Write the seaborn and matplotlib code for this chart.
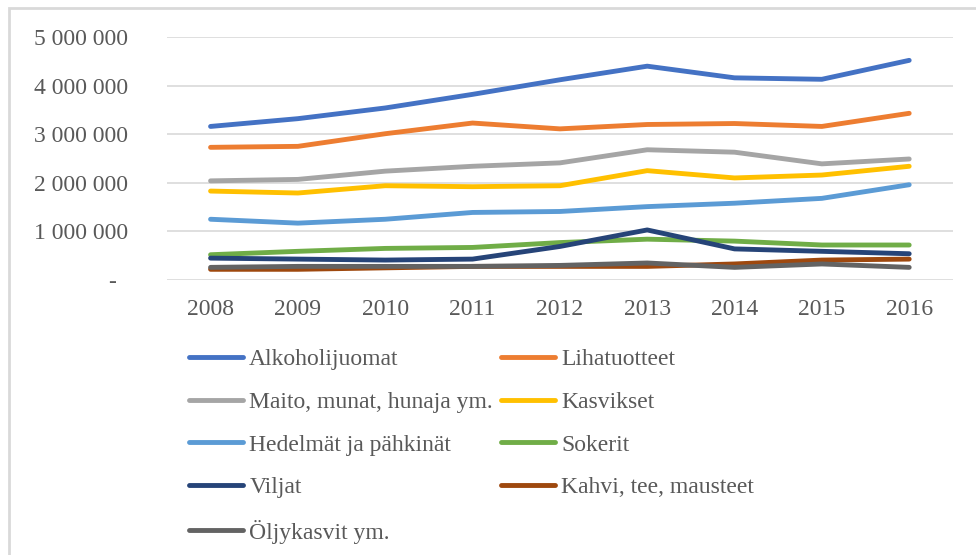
import numpy as np
import pandas as pd
import matplotlib.pyplot as plt
import seaborn as sns
from matplotlib.ticker import FuncFormatter
from matplotlib.patches import Rectangle
from matplotlib.transforms import ScaledTranslation

years = [2008, 2009, 2010, 2011, 2012, 2013, 2014, 2015, 2016]

alkoholijuomat = [3160000, 3320000, 3540000, 3820000, 4120000, 4400000, 4160000, 4130000, 4520000]
lihatuotteet = [2730000, 2750000, 3010000, 3230000, 3110000, 3200000, 3220000, 3160000, 3430000]
maito = [2040000, 2070000, 2240000, 2340000, 2410000, 2680000, 2630000, 2390000, 2490000]
kasvikset = [1830000, 1790000, 1940000, 1920000, 1940000, 2250000, 2100000, 2160000, 2340000]
hedelmat = [1250000, 1170000, 1250000, 1390000, 1410000, 1510000, 1580000, 1680000, 1960000]
sokerit = [520000, 590000, 650000, 670000, 770000, 840000, 800000, 720000, 720000]
viljat = [450000, 430000, 410000, 430000, 690000, 1030000, 640000, 590000, 540000]
kahvi = [220000, 220000, 250000, 280000, 280000, 280000, 330000, 410000, 430000]
oljykasvit = [260000, 280000, 280000, 280000, 300000, 350000, 260000, 330000, 260000]

names = ["Alkoholijuomat", "Lihatuotteet", "Maito, munat, hunaja ym.", "Kasvikset",
         "Hedelmät ja pähkinät", "Sokerit", "Viljat", "Kahvi, tee, mausteet", "Öljykasvit ym."]
series = [alkoholijuomat, lihatuotteet, maito, kasvikset, hedelmat, sokerit, viljat, kahvi, oljykasvit]
colors = ["#4472C4", "#ED7D31", "#A5A5A5", "#FFC000", "#5B9BD5",
          "#70AD47", "#264478", "#9E480E", "#636363"]

rows = []
for name, vals in zip(names, series):
    for i, v in enumerate(vals):
        rows.append({"pos": i, "sarja": name, "arvo": v})
df = pd.DataFrame(rows)

sns.set_style("white")
plt.rcParams['font.family'] = ['Liberation Serif', 'DejaVu Serif']

fig = plt.figure(figsize=(9.76, 5.55), dpi=100)
ax = fig.add_axes([0.171, 0.4955, 0.8053, 0.4378])

sns.lineplot(data=df, x="pos", y="arvo", hue="sarja", hue_order=names,
             palette=colors, linewidth=3.5, ax=ax, legend=True)

ax.set_ylim(0, 5000000)
ax.set_yticks([0, 1000000, 2000000, 3000000, 4000000, 5000000])
ax.set_xlim(-0.5, 8.5)
ax.set_xticks(range(len(years)))
ax.set_xticklabels([str(y) for y in years])

def fmt(v, pos):
    if v == 0:
        return "-"
    return f"{int(v):,}".replace(",", " ")

ax.yaxis.set_major_formatter(FuncFormatter(fmt))
ax.grid(axis="y", color="#D9D9D9", linewidth=1.2)
ax.set_axisbelow(True)
for s in ax.spines.values():
    s.set_visible(False)
ax.tick_params(axis="both", length=0, labelsize=17, colors="#595959")
ax.tick_params(axis="y", pad=28)
ax.tick_params(axis="x", pad=14)
ax.set_xlabel("")
ax.set_ylabel("")

# accounting-style dash for zero sits a bit left of the numbers' right edge
fig.canvas.draw()
zero_lbl = ax.yaxis.get_major_ticks()[0].label1
zero_lbl.set_transform(zero_lbl.get_transform() + ScaledTranslation(-12 / 100, 0, fig.dpi_scale_trans))

handles, labels = ax.get_legend_handles_labels()
ax.get_legend().remove()
order = [0, 2, 4, 6, 8, 1, 3, 5, 7]
leg = fig.legend([handles[i] for i in order], [labels[i] for i in order],
                 ncol=2, loc="upper left", bbox_to_anchor=(0.184, 0.389),
                 frameon=False, fontsize=17, handlelength=2.3, handletextpad=0.25,
                 columnspacing=0.35, labelspacing=0.9, borderaxespad=0)
for t in leg.get_texts():
    t.set_color("#595959")
for h in leg.get_lines():
    h.set_linewidth(3.5)

fig.patches.append(Rectangle((0.009, -0.05), 1.1, 1.036, transform=fig.transFigure,
                             fill=False, edgecolor="#D9D9D9", linewidth=2))

fig.savefig("out.png", dpi=100)
